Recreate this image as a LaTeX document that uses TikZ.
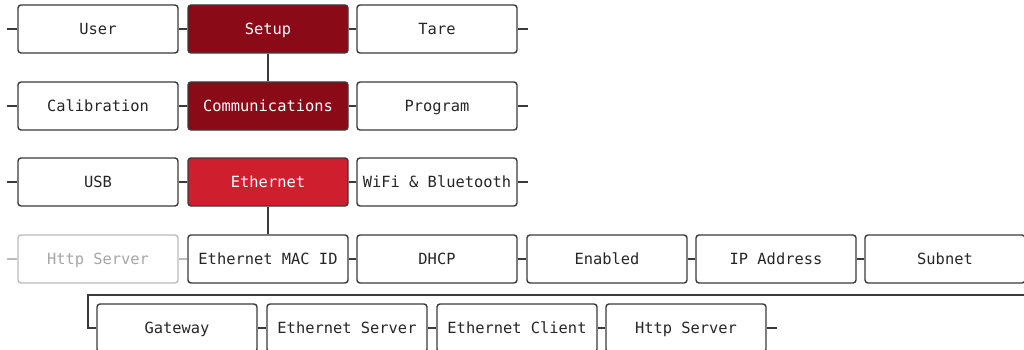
\documentclass[tikz,border=0pt]{standalone}
\usepackage{fontspec}
\setmonofont{DejaVu Sans Mono}
\definecolor{dred}{HTML}{8A0A17}
\definecolor{bred}{HTML}{CF1F2F}
\definecolor{edge}{HTML}{3A3A3A}
\definecolor{faint}{HTML}{BBBBBB}
\begin{document}
\begin{tikzpicture}[x=1pt,y=-1pt,
  box/.style={draw=edge,line width=1.4pt,rounded corners=3pt,minimum width=160pt,minimum height=48pt,inner sep=0pt,text height=11pt,text depth=0pt,fill=white,text=black!85,font=\ttfamily\fontsize{15.4}{18}\selectfont},
  darkbox/.style={box,fill=dred,text=white},
  redbox/.style={box,fill=bred,text=white},
  greybox/.style={box,draw=faint,text=black!35},
  link/.style={draw=edge,line width=1.4pt},
  glink/.style={draw=faint,line width=1.4pt}]
\useasboundingbox (0,0) rectangle (1024,350);
\clip (0,0) rectangle (1024,350);
% row 1
\node[box] (user) at (98,29) {User};
\node[darkbox] (setup) at (268,29) {Setup};
\node[box] (tare) at (437,29) {Tare};
% row 2
\node[box] (calib) at (98,106) {Calibration};
\node[darkbox] (comm) at (268,106) {Communications};
\node[box] (prog) at (437,106) {Program};
% row 3
\node[box] (usb) at (98,182) {USB};
\node[redbox] (eth) at (268,182) {Ethernet};
\node[box] (wifi) at (437,182) {WiFi \& Bluetooth};
% row 4
\node[greybox] (http1) at (98,259) {Http Server};
\node[box] (mac) at (268,259) {Ethernet MAC ID};
\node[box] (dhcp) at (437,259) {DHCP};
\node[box] (enab) at (607,259) {Enabled};
\node[box] (ip) at (776,259) {IP Address};
\node[box] (subnet) at (945,259) {Subnet};
% row 5
\node[box] (gw) at (177,328) {Gateway};
\node[box] (eserv) at (347,328) {Ethernet Server};
\node[box] (eclient) at (517,328) {Ethernet Client};
\node[box] (http2) at (686,328) {Http Server};
% stubs
\coordinate (s1) at ([xshift=-10pt]user.west);
\coordinate (s2) at ([xshift=10pt]tare.east);
\coordinate (s3) at ([xshift=-10pt]calib.west);
\coordinate (s4) at ([xshift=10pt]prog.east);
\coordinate (s5) at ([xshift=-10pt]usb.west);
\coordinate (s6) at ([xshift=10pt]wifi.east);
\coordinate (s7) at ([xshift=-10pt]http1.west);
\coordinate (s8) at ([xshift=10pt]http2.east);
\draw[link] (s1) -- (user.west);
\draw[link] (user) -- (setup);
\draw[link] (setup) -- (tare);
\draw[link] (tare.east) -- (s2);
\draw[link] (s3) -- (calib.west);
\draw[link] (calib) -- (comm);
\draw[link] (comm) -- (prog);
\draw[link] (prog.east) -- (s4);
\draw[link] (s5) -- (usb.west);
\draw[link] (usb) -- (eth);
\draw[link] (eth) -- (wifi);
\draw[link] (wifi.east) -- (s6);
\draw[glink] (s7) -- (http1.west);
\draw[glink] (http1) -- (mac);
\draw[link] (mac) -- (dhcp);
\draw[link] (dhcp) -- (enab);
\draw[link] (enab) -- (ip);
\draw[link] (ip) -- (subnet);
\draw[link] (setup) -- (comm);
\draw[link] (eth) -- (mac);
\draw[link] (subnet.east) -- ++(10,0) |- (88,295) |- (gw.west);
\draw[link] (gw) -- (eserv);
\draw[link] (eserv) -- (eclient);
\draw[link] (eclient) -- (http2);
\draw[link] (http2.east) -- (s8);
\end{tikzpicture}
\end{document}
